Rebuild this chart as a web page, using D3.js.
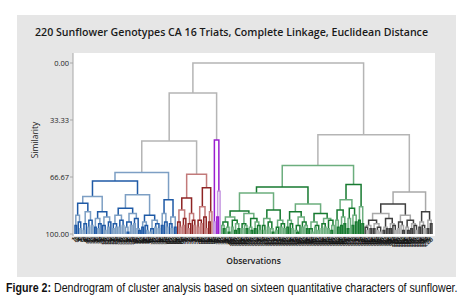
<!DOCTYPE html>
<html>
<head>
<meta charset="utf-8">
<script src="https://cdn.jsdelivr.net/npm/d3@7"></script>
<style>
  body { margin: 0; background: #fff; }
  svg { display: block; }
</style>
</head>
<body>
<svg id="chart" width="474" height="308"></svg>
<script>
// merges are [similarity, left, right]; 0 stands for one observation
var blueTree = [64,
  [69,
    [78,
      [82,
        [89, [95, 0, 0], [93, 0, [97, 0, 0]]],
        [87, [94, [98, 0, 0], 0], [92, [96, 0, 0], [95, 0, 0]]]],
      [87,
        [91, [96, 0, 0], [94, [97, 0, 0], 0]],
        [90, [95, 0, [98, 0, 0]], [93, [96, 0, 0], 0]]]],
    [77,
      [85,
        [89, [94, [97, 0, 0], [96, 0, 0]], [92, [96, 0, 0], [95, 0, 0]]],
        [88, [93, [96, 0, [99, 0, 0]], [95, 0, 0]], [91, [94, 0, 0], [97, 0, [98, 0, 0]]]]],
      [89,
        [93, [96, 0, 0], [95, 0, [98, 0, 0]]],
        [92, [97, [99, 0, 0], 0], [94, [96, 0, 0], [97, 0, 0]]]]]],
  [80,
    [88, [95, 0, 0], [93, 0, [96, 0, 0]]],
    [90, [94, 0, [97, 0, 0]], [96, 0, 0]]]];

var redTree = [65,
  [79,
    [86, [93, 0, [96, 0, 0]], [91, [95, 0, 0], 0]],
    [88, [94, [97, 0, 0], 0], [92, 0, [95, 0, 0]]]],
  [73,
    [84, [92, [96, 0, 0], [94, 0, 0]], [90, 0, [97, 0, 0]]],
    [87, [93, 0, 0], 0]]];

var purpleTree = [45, [93, 0, 0], [75, [90, 0, 0], 0]];

var greenTree = [60,
  [72.5,
    [76,
      [86.5,
        [90, [93, [95, 0, [97, 0, 0]], [96, 0, [99, 0, 0]]], [92, [96, 0, 0], [94, [98, 0, 0], [97, 0, 0]]]],
        [88, [94, [97, 0, 0], [95, 0, [97, 0, 0]]], [91, [96, 0, [98, 0, 0]], [93, [97, 0, 0], [95, 0, [98, 0, 0]]]]]],
      [86,
        [91, [95, 0, [98, 0, 0]], [93, [96, 0, 0], [97, 0, [99, 0, 0]]]],
        [92, [96, [98, 0, 0], 0], [94, [96, 0, 0], [97, 0, 0]]]]],
    [82.5,
      [87, [92, [96, 0, 0], [94, 0, [97, 0, 0]]], [90, [95, [98, 0, [99, 0, 0]], 0], [93, [96, 0, 0], [95, 0, [97, 0, 0]]]]],
      [88, [93, [97, 0, [99, 0, 0]], [95, [96, 0, 0], [98, 0, 0]]], [91, [94, [97, 0, 0], [96, 0, 0]], [92, [97, 0, 0], [95, [98, 0, 0], 0]]]]]],
  [71,
    [80,
      [86, [92, 0, [96, 0, 0]], [90, [95, 0, 0], [94, 0, 0]]],
      [85, [91, [97, 0, 0], 0], [89, [95, 0, 0], [93, 0, 0]]]],
    [84, [92, 0, 0], [94, 0, 0]]]];

var blackTree = [75.4,
  [82.5,
    [88,
      [92, [95, [96, 0, [98, 0, 0]], [97, 0, 0]], [94, [97, 0, 0], [96, [98, 0, 0], [99, 0, 0]]]],
      [91, [96, [98, 0, 0], [97, 0, 0]], [94, [97, 0, 0], [95, 0, [98, 0, 0]]]]],
    [89, [93, [97, 0, 0], [95, 0, [98, 0, 0]]], [92, [96, 0, [98, 0, 0]], [94, [97, 0, 0], [95, 0, [98, 0, 0]]]]]],
  [87, [93, [96, 0, 0], [95, 0, [97, 0, 0]]], [92, [97, 0, 0], [94, 0, 0]]]];

// joins between the five clusters
var topMerges = [0, [17.5, [45.6, blueTree, redTree], purpleTree], [42, greenTree, blackTree]];

var clusterTrees = [blueTree, redTree, purpleTree, greenTree, blackTree];
var clusterShades = [
  ["#7d9fc4", "#1f5aa6"],
  ["#c27a7a", "#8e2424"],
  ["#9a1fd0", "#c596e0"],
  ["#6cae7e", "#177a30"],
  ["#a9a9a9", "#3f3f3f"]
];
var yTicks = [0, 33.33, 66.67, 100];

(function () {
  var svg = d3.select("#chart");

  var plot = {left: 73, top: 53, right: 435, bottom: 236};

  // grey panel and white data region
  svg.append("rect")
    .attr("x", 17).attr("y", 15)
    .attr("width", 439).attr("height", 262)
    .attr("fill", "#e6e6e6");

  svg.append("rect")
    .attr("x", plot.left).attr("y", plot.top)
    .attr("width", plot.right - plot.left).attr("height", plot.bottom - plot.top)
    .attr("fill", "#fff");

  var root = d3.hierarchy(topMerges, function (d) {
    return Array.isArray(d) ? d.slice(1) : null;
  });
  var leaves = root.leaves();

  var x = d3.scaleLinear().domain([0, leaves.length - 1]).range([75, 432]);
  var y = d3.scaleLinear().domain([0, 100]).range([63, 234]);

  leaves.forEach(function (d, i) {
    d.px = x(i);
    d.sim = 100;
    d.obs = i + 1;
  });
  root.eachAfter(function (d) {
    if (d.children) {
      d.px = (d.children[0].px + d.children[1].px) / 2;
      d.sim = d.data[0];
    }
  });

  // colour: grey above the clusters, alternating shades inside them
  root.eachBefore(function (d) {
    var k = clusterTrees.indexOf(d.data);
    if (k >= 0) {
      d.cluster = k;
      d.level = 0;
    } else if (d.parent && d.parent.cluster != null) {
      d.cluster = d.parent.cluster;
      d.level = d.parent.level + 1;
    }
  });

  var links = root.descendants().filter(function (d) { return d.children; });

  svg.append("g")
    .attr("fill", "none")
    .attr("stroke-width", 1.5)
    .selectAll("path")
    .data(links)
    .enter().append("path")
    .attr("stroke", function (d) {
      if (d.cluster == null) return "#b5b5b5";
      return clusterShades[d.cluster][d.level % 2];
    })
    .attr("d", function (d) {
      var a = d.children[0], b = d.children[1];
      return "M" + a.px + "," + y(a.sim) +
        "V" + y(d.sim) +
        "H" + b.px +
        "V" + y(b.sim);
    });

  // y axis
  var axis = svg.append("g")
    .attr("transform", "translate(" + plot.left + ",0)");
  axis.append("line")
    .attr("y1", plot.top).attr("y2", plot.bottom)
    .attr("stroke", "#a8a8a8");
  axis.selectAll(".tick")
    .data(yTicks)
    .enter().append("line")
    .attr("x1", -3).attr("x2", 0)
    .attr("y1", function (d) { return y(d); })
    .attr("y2", function (d) { return y(d); })
    .attr("stroke", "#a8a8a8");
  axis.selectAll("text")
    .data(yTicks)
    .enter().append("text")
    .attr("x", -4)
    .attr("y", function (d) { return y(d); })
    .attr("dy", "0.35em")
    .attr("text-anchor", "end")
    .attr("font-family", "Open Sans, sans-serif")
    .attr("font-size", 7.5)
    .attr("fill", "#222")
    .text(function (d) { return d3.format(".2f")(d); });

  // observation labels under the leaves
  svg.append("g")
    .selectAll("text")
    .data(leaves)
    .enter().append("text")
    .attr("transform", function (d) {
      return "translate(" + d.px + ",238) rotate(-40)";
    })
    .attr("text-anchor", "end")
    .attr("dy", "0.4em")
    .attr("font-family", "Open Sans, sans-serif")
    .attr("font-weight", 600)
    .attr("font-size", 6.5)
    .attr("fill", "#111")
    .text(function (d) { return d.obs; });

  svg.append("text")
    .attr("x", 231.5).attr("y", 36)
    .attr("text-anchor", "middle")
    .attr("font-family", "Open Sans, sans-serif")
    .attr("font-weight", 600)
    .attr("font-size", 11.5)
    .attr("textLength", 393)
    .attr("lengthAdjust", "spacingAndGlyphs")
    .attr("fill", "#1a1a1a")
    .text("220 Sunflower Genotypes CA 16 Triats, Complete Linkage, Euclidean Distance");

  svg.append("text")
    .attr("transform", "translate(38,140) rotate(-90)")
    .attr("text-anchor", "middle")
    .attr("font-family", "Open Sans, sans-serif")
    .attr("font-size", 8.5)
    .attr("fill", "#222")
    .text("Similarity");

  svg.append("text")
    .attr("x", 253.5).attr("y", 264)
    .attr("text-anchor", "middle")
    .attr("font-family", "Open Sans, sans-serif")
    .attr("font-weight", 600)
    .attr("font-size", 8.5)
    .attr("fill", "#222")
    .text("Observations");

  // caption: squeeze to the width it has in the figure
  var caption = svg.append("text")
    .attr("x", 0).attr("y", 0)
    .attr("font-family", "Liberation Sans, Arial, sans-serif")
    .attr("font-size", 12)
    .attr("fill", "#111");
  caption.append("tspan")
    .attr("font-weight", "bold")
    .text("Figure 2:");
  caption.append("tspan")
    .text(" Dendrogram of cluster analysis based on sixteen quantitative characters of sunflower.");
  var w = caption.node().getComputedTextLength();
  caption.attr("transform", "translate(6,292) scale(" + (452 / w) + ",1)");
})();
</script>
</body>
</html>
